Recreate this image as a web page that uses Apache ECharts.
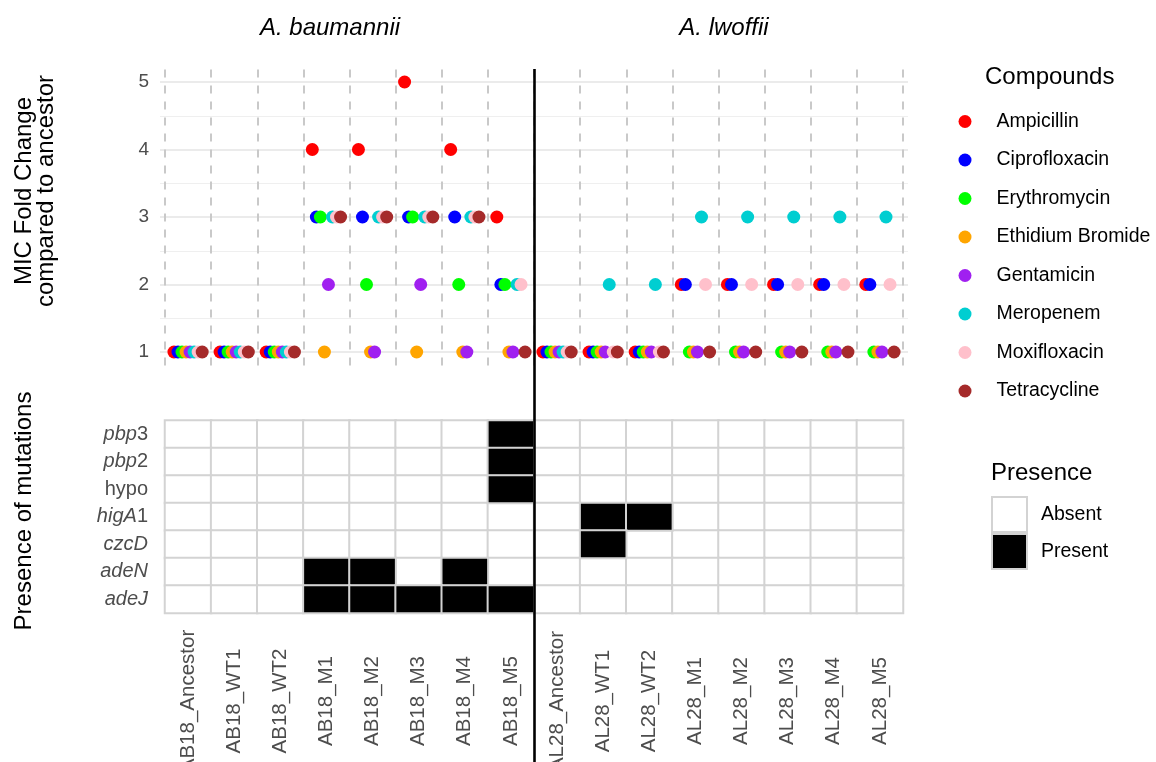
<!DOCTYPE html>
<html><head><meta charset="utf-8">
<script src="https://cdn.jsdelivr.net/npm/echarts@6/dist/echarts.min.js"></script>
<style>html,body{margin:0;padding:0;background:#fff}#chart{width:1156px;height:762px}</style>
</head><body><div id="chart"></div>
<script>
// ---------- DATA ----------
const samples = ['AB18_Ancestor','AB18_WT1','AB18_WT2','AB18_M1','AB18_M2','AB18_M3','AB18_M4','AB18_M5',
                 'AL28_Ancestor','AL28_WT1','AL28_WT2','AL28_M1','AL28_M2','AL28_M3','AL28_M4','AL28_M5'];
const species = ['A. baumannii', 'A. lwoffii'];
const compounds = ['Ampicillin','Ciprofloxacin','Erythromycin','Ethidium Bromide','Gentamicin','Meropenem','Moxifloxacin','Tetracycline'];
const ampicillin     = [1,1,1,4,4,5,4,3, 1,1,1,2,2,2,2,2];
const ciprofloxacin  = [1,1,1,3,3,3,3,2, 1,1,1,2,2,2,2,2];
const erythromycin   = [1,1,1,3,2,3,2,2, 1,1,1,1,1,1,1,1];
const ethidiumBromide= [1,1,1,1,1,1,1,1, 1,1,1,1,1,1,1,1];
const gentamicin     = [1,1,1,2,1,2,1,1, 1,1,1,1,1,1,1,1];
const meropenem      = [1,1,1,3,3,3,3,2, 1,2,2,3,3,3,3,3];
const moxifloxacin   = [1,1,1,3,3,3,3,2, 1,1,1,2,2,2,2,2];
const tetracycline   = [1,1,1,3,3,3,3,1, 1,1,1,1,1,1,1,1];
const yTicks = [1,2,3,4,5];

const genes = ['pbp3','pbp2','hypo','higA1','czcD','adeN','adeJ'];
const pbp3  = [0,0,0,0,0,0,0,1, 0,0,0,0,0,0,0,0];
const pbp2  = [0,0,0,0,0,0,0,1, 0,0,0,0,0,0,0,0];
const hypo  = [0,0,0,0,0,0,0,1, 0,0,0,0,0,0,0,0];
const higA1 = [0,0,0,0,0,0,0,0, 0,1,1,0,0,0,0,0];
const czcD  = [0,0,0,0,0,0,0,0, 0,1,0,0,0,0,0,0];
const adeN  = [0,0,0,1,1,0,1,0, 0,0,0,0,0,0,0,0];
const adeJ  = [0,0,0,1,1,1,1,1, 0,0,0,0,0,0,0,0];
const presenceLabels = ['Absent','Present'];

// ---------- STYLE ----------
const FONT = 'Liberation Sans, Arial, Helvetica, sans-serif';
const compoundColors = ['#FF0000','#0000FF','#00FF00','#FFA500','#A020F0','#00CED1','#FFC0CB','#A52A2A'];
const nonItalicGenes = ['hypo'];
const dodgeWidth = 0.7;
const expand = 5 / 46.125;

const compoundValues = [ampicillin, ciprofloxacin, erythromycin, ethidiumBromide, gentamicin, meropenem, moxifloxacin, tetracycline];
const geneRows = [pbp3, pbp2, hypo, higA1, czcD, adeN, adeJ];
const nAB = samples.filter(s => s.startsWith('AB18')).length;

const xMin = 0.5 - expand, xMax = samples.length + 0.5 + expand;

const scatterSeries = compounds.map((c, j) => ({
  name: c, type: 'scatter', xAxisIndex: 0, yAxisIndex: 0,
  symbol: 'circle', symbolSize: 13, z: 3,
  itemStyle: { color: compoundColors[j], opacity: 1 },
  emphasis: { disabled: true },
  data: compoundValues[j].map((v, i) => [i + 1 + (j - (compounds.length - 1) / 2) * dodgeWidth / compounds.length, v])
}));

const absentData = [], presentData = [];
geneRows.forEach((row, gi) => row.forEach((v, si) => (v ? presentData : absentData).push([si, gi, v])));

const cellStyle = (col) => ({ color: col, borderColor: '#d3d3d3', borderWidth: 2 });

const minorVals = yTicks.slice(0, -1).map(v => v + 0.5);
const boundaries = samples.map((s, i) => i + 0.5).concat([samples.length + 0.5]);

const option = {
  animation: false,
  textStyle: { fontFamily: FONT },
  grid: [
    { left: 160, width: 748, top: 68.5, height: 297, outerBoundsMode: 'none', containLabel: false },
    { left: 165, width: 738, top: 420.5, height: 192.5, outerBoundsMode: 'none', containLabel: false },
    { left: 160, width: 748, top: 69, bottom: 0, outerBoundsMode: 'none', containLabel: false }
  ],
  xAxis: [
    { type: 'value', gridIndex: 0, min: xMin, max: xMax, show: false },
    { type: 'category', gridIndex: 1, data: samples,
      axisLine: { show: false }, axisTick: { show: false }, splitLine: { show: false },
      axisLabel: { interval: 0, rotate: 90, align: 'center', verticalAlign: 'middle', margin: 88,
                   fontSize: 20.5, color: '#4d4d4d', fontFamily: FONT } },
    { type: 'value', gridIndex: 2, min: xMin, max: xMax, show: false }
  ],
  yAxis: [
    { type: 'value', gridIndex: 0, min: 0.8, max: 5.2,
      axisLine: { show: false }, axisTick: { show: false }, splitLine: { show: false },
      axisLabel: { customValues: yTicks, fontSize: 19, color: '#4d4d4d', margin: 11, fontFamily: FONT } },
    { type: 'category', gridIndex: 1, data: genes, inverse: true,
      axisLine: { show: false }, axisTick: { show: false }, splitLine: { show: false },
      axisLabel: { margin: 17, interval: 0,
        formatter: g => {
          if (nonItalicGenes.includes(g)) return '{n|' + g + '}';
          const m = g.match(/^(.*?)(\d*)$/);
          return '{i|' + m[1] + '}' + (m[2] ? '{n|' + m[2] + '}' : '');
        },
        rich: {
          i: { fontStyle: 'italic', fontSize: 20, color: '#4d4d4d', fontFamily: FONT },
          n: { fontSize: 20, color: '#4d4d4d', fontFamily: FONT }
        } } },
    { type: 'value', gridIndex: 2, min: 0, max: 1, show: false }
  ],
  legend: [
    { data: compounds, orient: 'vertical', left: 958.5, top: 111.5, padding: 0, icon: 'circle',
      itemWidth: 13, itemHeight: 13, itemGap: 18.5, selectedMode: false,
      textStyle: { fontSize: 19.5, color: '#000', lineHeight: 13, padding: [0, 0, 0, 20], fontFamily: FONT } },
    { data: [
        { name: presenceLabels[0], icon: 'rect', itemStyle: cellStyle('#ffffff') },
        { name: presenceLabels[1], icon: 'rect', itemStyle: cellStyle('#000000') }
      ],
      orient: 'vertical', left: 991, top: 496, padding: 0, itemWidth: 35, itemHeight: 35, itemGap: 0, selectedMode: false,
      textStyle: { fontSize: 19.5, color: '#000', padding: [0, 0, 0, 9], fontFamily: FONT } }
  ],
  graphic: [
    { type: 'text', x: 330, y: 28, style: { text: species[0], font: 'italic 24px ' + FONT, fill: '#000', align: 'center', verticalAlign: 'middle' } },
    { type: 'text', x: 724, y: 28, style: { text: species[1], font: 'italic 24px ' + FONT, fill: '#000', align: 'center', verticalAlign: 'middle' } },
    { type: 'text', x: 985, y: 77, style: { text: 'Compounds', font: '24px ' + FONT, fill: '#000', align: 'left', verticalAlign: 'middle' } },
    { type: 'text', x: 991, y: 473, style: { text: 'Presence', font: '24px ' + FONT, fill: '#000', align: 'left', verticalAlign: 'middle' } },
    { type: 'text', x: 35, y: 191, rotation: Math.PI / 2,
      style: { text: 'MIC Fold Change\ncompared to ancestor', font: '24px ' + FONT, lineHeight: 22, fill: '#000', align: 'center', verticalAlign: 'middle' } },
    { type: 'text', x: 24, y: 511, rotation: Math.PI / 2,
      style: { text: 'Presence of mutations', font: '24px ' + FONT, fill: '#000', align: 'center', verticalAlign: 'middle' } }
  ],
  series: [
    { type: 'scatter', xAxisIndex: 0, yAxisIndex: 0, data: [], silent: true,
      markLine: { silent: true, symbol: 'none', z: 0, label: { show: false }, animation: false,
        lineStyle: { color: '#ebebeb', width: 2, type: 'solid' },
        data: yTicks.map(v => ({ yAxis: v })) } },
    { type: 'scatter', xAxisIndex: 0, yAxisIndex: 0, data: [], silent: true,
      markLine: { silent: true, symbol: 'none', z: 0, label: { show: false }, animation: false,
        lineStyle: { color: '#efefef', width: 1.2, type: 'solid' },
        data: minorVals.map(v => ({ yAxis: v })) } },
    { type: 'scatter', xAxisIndex: 0, yAxisIndex: 0, data: [], silent: true,
      markLine: { silent: true, symbol: 'none', z: 1, label: { show: false }, animation: false,
        lineStyle: { color: '#c9c9c9', width: 2, type: [8, 8] },
        data: boundaries.map(v => ({ xAxis: v })) } },
    ...scatterSeries,
    { name: presenceLabels[0], type: 'heatmap', xAxisIndex: 1, yAxisIndex: 1, data: absentData,
      itemStyle: cellStyle('#ffffff'), emphasis: { disabled: true }, z: 2 },
    { name: presenceLabels[1], type: 'heatmap', xAxisIndex: 1, yAxisIndex: 1, data: presentData,
      itemStyle: cellStyle('#000000'), emphasis: { disabled: true }, z: 2 },
    { type: 'scatter', xAxisIndex: 2, yAxisIndex: 2, data: [], silent: true, z: 10,
      markLine: { silent: true, symbol: 'none', z: 10, label: { show: false }, animation: false,
        lineStyle: { color: '#000', width: 2.6, type: 'solid' },
        data: [{ xAxis: nAB + 0.5 }] } }
  ]
};

const chart = echarts.init(document.getElementById('chart'), null, { renderer: 'canvas' });
chart.setOption(option);
</script></body></html>
